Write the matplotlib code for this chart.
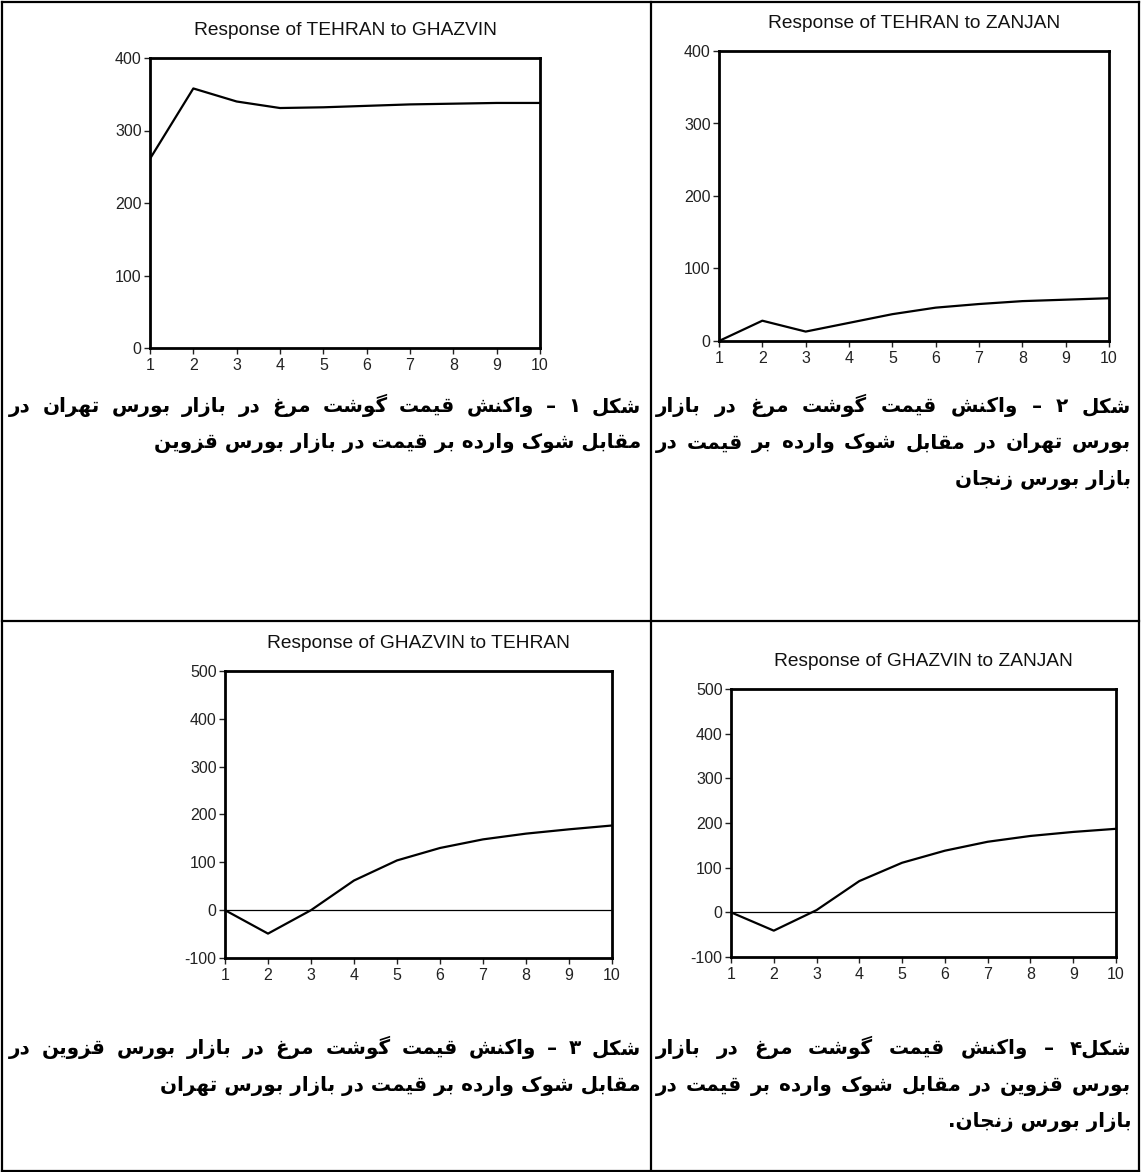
import numpy as np
import matplotlib
matplotlib.use("Agg")
import matplotlib.pyplot as plt
from matplotlib.lines import Line2D

W, H = 1141, 1172

""" Data """
"""======================================================"""
periods = [1, 2, 3, 4, 5, 6, 7, 8, 9, 10]

tehran_to_ghazvin = [261, 358, 340, 331, 332, 334, 336, 337, 338, 338]
tehran_to_zanjan = [0, 28, 13, 25, 37, 46, 51, 55, 57, 59]
ghazvin_to_tehran = [0, -49, 0, 62, 104, 130, 148, 160, 169, 177]
ghazvin_to_zanjan = [0, -41, 5, 70, 111, 138, 158, 171, 180, 187]

titles = ["Response of TEHRAN to GHAZVIN", "Response of TEHRAN to ZANJAN",
          "Response of GHAZVIN to TEHRAN", "Response of GHAZVIN to ZANJAN"]

yticks_top = [0, 100, 200, 300, 400]
yticks_bottom = [-100, 0, 100, 200, 300, 400, 500]

captions = [
    ["شکل ۱ – واکنش قیمت گوشت مرغ  در بازار بورس تهران در",
     "مقابل شوک وارده بر قیمت در بازار بورس قزوین"],
    ["شکل  ۲ – واکنش قیمت گوشت مرغ  در بازار",
     "بورس تهران در مقابل شوک وارده بر قیمت در",
     "بازار بورس زنجان"],
    ["شکل ۳ – واکنش قیمت گوشت مرغ  در بازار بورس قزوین  در",
     "مقابل شوک وارده بر قیمت در بازار بورس تهران"],
    ["شکل۴ – واکنش قیمت گوشت مرغ  در بازار",
     "بورس قزوین  در مقابل شوک وارده بر قیمت در",
     "بازار بورس زنجان."],
]
# lines that run the full cell width (justified in the original)
justified = [[True, False], [True, True, False], [True, False], [True, True, False]]


""" Persian shaping (matplotlib has no bidi / joining) """
"""======================================================"""
# isolated, final, initial, medial
FORMS = {
    'ا': ('\uFE8D', '\uFE8E', None, None),
    'ب': ('\uFE8F', '\uFE90', '\uFE91', '\uFE92'),
    'ت': ('\uFE95', '\uFE96', '\uFE97', '\uFE98'),
    'ج': ('\uFE9D', '\uFE9E', '\uFE9F', '\uFEA0'),
    'د': ('\uFEA9', '\uFEAA', None, None),
    'ر': ('\uFEAD', '\uFEAE', None, None),
    'ز': ('\uFEAF', '\uFEB0', None, None),
    'س': ('\uFEB1', '\uFEB2', '\uFEB3', '\uFEB4'),
    'ش': ('\uFEB5', '\uFEB6', '\uFEB7', '\uFEB8'),
    'غ': ('\uFECD', '\uFECE', '\uFECF', '\uFED0'),
    'ق': ('\uFED5', '\uFED6', '\uFED7', '\uFED8'),
    'ل': ('\uFEDD', '\uFEDE', '\uFEDF', '\uFEE0'),
    'م': ('\uFEE1', '\uFEE2', '\uFEE3', '\uFEE4'),
    'ن': ('\uFEE5', '\uFEE6', '\uFEE7', '\uFEE8'),
    'ه': ('\uFEE9', '\uFEEA', '\uFEEB', '\uFEEC'),
    'و': ('\uFEED', '\uFEEE', None, None),
    'ک': ('\uFB8E', '\uFB8F', '\uFB90', '\uFB91'),
    'گ': ('\uFB92', '\uFB93', '\uFB94', '\uFB95'),
    'ی': ('\uFBFC', '\uFBFD', '\uFBFE', '\uFBFF'),
}

def rtl(text):
    out = []
    for i, c in enumerate(text):
        if c not in FORMS:
            out.append(c)
            continue
        iso, fin, ini, med = FORMS[c]
        prev = text[i-1] if i > 0 else None
        nxt = text[i+1] if i+1 < len(text) else None
        jp = prev in FORMS and FORMS[prev][2] is not None
        jn = ini is not None and nxt in FORMS
        if jp and jn:
            out.append(med)
        elif jp:
            out.append(fin)
        elif jn:
            out.append(ini)
        else:
            out.append(iso)
    return ''.join(reversed(out))


""" Figure """
"""======================================================"""
plt.rcParams['font.family'] = ['Liberation Sans', 'DejaVu Sans']
plt.rcParams['axes.unicode_minus'] = False
fig = plt.figure(figsize=(W/100, H/100), dpi=100)
r = fig.canvas.get_renderer()

def px_axes(l, t, r, b):
    return fig.add_axes([l/W, 1-b/H, (r-l)/W, (b-t)/H])

def line_px(x0, y0, x1, y1, lw=1.6):
    fig.add_artist(Line2D([x0/W, x1/W], [1-y0/H, 1-y1/H], color='black',
                          lw=lw, transform=fig.transFigure))

def text_width(s, fs):
    t = fig.text(0, 0, s, fontsize=fs, fontweight='bold', family='DejaVu Sans')
    w = t.get_window_extent(r).width
    t.remove()
    return w

# table borders
line_px(2, 1.5, 1139, 1.5)
line_px(2, 1170.5, 1139, 1170.5)
line_px(2, 1.5, 2, 1170.5)
line_px(1139, 1.5, 1139, 1170.5)
line_px(651, 1.5, 651, 1170.5)
line_px(2, 621, 1139, 621)

boxes = [(150, 58, 540, 348), (719, 51, 1109, 341),
         (225, 671, 612, 958), (731, 689, 1116, 957)]
series = [tehran_to_ghazvin, tehran_to_zanjan, ghazvin_to_tehran, ghazvin_to_zanjan]
yticks = [yticks_top, yticks_top, yticks_bottom, yticks_bottom]

for box, vals, ttl, yt in zip(boxes, series, titles, yticks):
    ax = px_axes(*box)
    if yt[0] < 0:
        ax.axhline(0, color='black', lw=0.9)
    ax.plot(periods, vals, color='black', lw=1.6)
    ax.set_xlim(1, 10)
    ax.set_ylim(yt[0], yt[-1])
    ax.set_xticks(periods)
    ax.set_yticks(yt)
    for s in ax.spines.values():
        s.set_linewidth(2)
    ax.tick_params(direction='out', length=4, width=1, labelsize=11.5,
                   colors='#222222')
    ax.tick_params(axis='x', pad=3)
    ax.tick_params(axis='y', pad=2)
    ax.annotate(ttl, xy=(0.5, 1), xycoords='axes fraction', xytext=(0, 20),
                textcoords='offset points', ha='center', va='center',
                fontsize=13.8, color='#111111')

# captions: one font size, chosen so that the full lines fit their cells
cap_right = [641, 1131, 641, 1131]
cap_left = [9, 656, 9, 656]
cap_base = [412, 412, 1054, 1054]
sizes = []
for ci, lines in enumerate(captions):
    for li, ln in enumerate(lines):
        if justified[ci][li]:
            target = cap_right[ci] - cap_left[ci] - 4
            sizes.append(16 * target / text_width(rtl(ln), 16))
cap_fs = min(sizes)

for ci, lines in enumerate(captions):
    for k, ln in enumerate(lines):
        y = 1 - (cap_base[ci] + 36.5*k)/H
        if not justified[ci][k]:
            fig.text(cap_right[ci]/W, y, rtl(ln), ha='right', va='baseline',
                     fontsize=cap_fs, fontweight='bold', family='DejaVu Sans')
            continue
        words = ln.split()
        widths = [text_width(rtl(wd), cap_fs) for wd in words]
        gap = (cap_right[ci] - cap_left[ci] - sum(widths)) / (len(words) - 1)
        x = cap_right[ci]
        for wd, ww in zip(words, widths):
            fig.text(x/W, y, rtl(wd), ha='right', va='baseline',
                     fontsize=cap_fs, fontweight='bold', family='DejaVu Sans')
            x -= ww + gap

fig.savefig('out.png', dpi=100)
